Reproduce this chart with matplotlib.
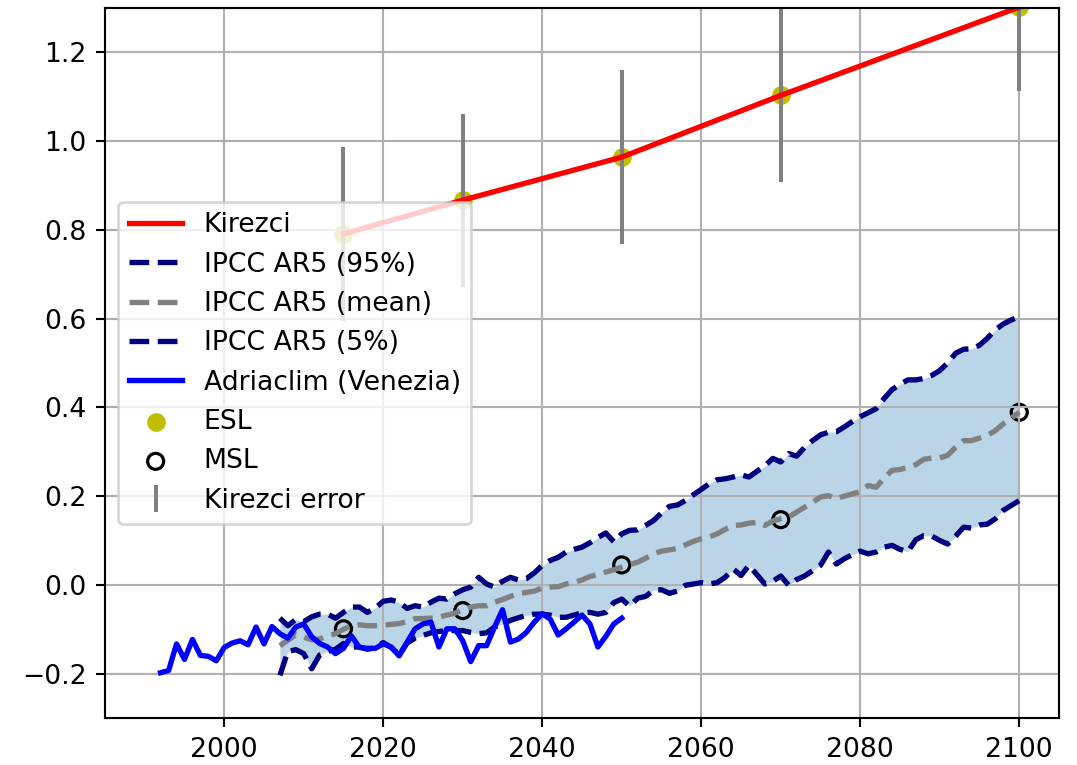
import numpy as np
import matplotlib
matplotlib.use("Agg")
import matplotlib.pyplot as plt

# ---------------- data ----------------
ipcc_years = list(range(2007, 2101))
ipcc_95 = [-0.075, -0.092, -0.078, -0.083, -0.072, -0.066, -0.066, -0.075, -0.062, -0.050,
           -0.050, -0.062, -0.052, -0.037, -0.034, -0.039, -0.053, -0.047, -0.050, -0.039,
           -0.030, -0.032, -0.020, -0.011, -0.005, 0.017, 0.002, -0.005, 0.008, 0.017,
           0.011, 0.014, 0.027, 0.044, 0.055, 0.062, 0.074, 0.080, 0.085, 0.095,
           0.107, 0.117, 0.097, 0.115, 0.123, 0.124, 0.134, 0.145, 0.162, 0.177,
           0.180, 0.190, 0.203, 0.215, 0.228, 0.237, 0.239, 0.243, 0.248, 0.243,
           0.256, 0.268, 0.285, 0.277, 0.296, 0.290, 0.310, 0.325, 0.338, 0.344,
           0.345, 0.356, 0.368, 0.379, 0.388, 0.397, 0.420, 0.440, 0.452, 0.462,
           0.462, 0.465, 0.472, 0.483, 0.500, 0.522, 0.531, 0.532, 0.540, 0.556,
           0.575, 0.588, 0.597, 0.605]
ipcc_mean = [-0.137, -0.125, -0.112, -0.118, -0.124, -0.122, -0.115, -0.110, -0.100, -0.092,
             -0.090, -0.092, -0.092, -0.091, -0.089, -0.087, -0.083, -0.076, -0.076, -0.075,
             -0.073, -0.068, -0.064, -0.056, -0.050, -0.047, -0.047, -0.039, -0.033, -0.026,
             -0.020, -0.017, -0.014, -0.007, -0.005, -0.004, 0.002, 0.006, 0.011, 0.019,
             0.023, 0.029, 0.034, 0.040, 0.046, 0.051, 0.060, 0.070, 0.076, 0.079,
             0.082, 0.090, 0.098, 0.104, 0.108, 0.115, 0.125, 0.134, 0.135, 0.139,
             0.141, 0.134, 0.144, 0.149, 0.153, 0.164, 0.175, 0.186, 0.198, 0.201,
             0.194, 0.200, 0.205, 0.210, 0.224, 0.220, 0.241, 0.258, 0.260, 0.265,
             0.271, 0.283, 0.286, 0.286, 0.292, 0.310, 0.325, 0.325, 0.331, 0.337,
             0.348, 0.363, 0.376, 0.389]
ipcc_5 = [-0.204, -0.150, -0.146, -0.155, -0.189, -0.158, -0.150, -0.145, -0.132, -0.140,
          -0.140, -0.145, -0.142, -0.130, -0.141, -0.158, -0.131, -0.120, -0.114, -0.108,
          -0.105, -0.103, -0.103, -0.103, -0.107, -0.110, -0.108, -0.095, -0.088, -0.080,
          -0.074, -0.069, -0.066, -0.066, -0.068, -0.073, -0.073, -0.068, -0.063, -0.062,
          -0.066, -0.062, -0.040, -0.032, -0.048, -0.030, -0.026, -0.012, -0.011, -0.019,
          -0.014, -0.001, 0.002, 0.005, 0.002, 0.005, 0.017, 0.036, 0.021, 0.044,
          0.023, 0.002, 0.008, 0.020, -0.001, 0.012, 0.020, 0.032, 0.044, 0.074,
          0.047, 0.059, 0.068, 0.076, 0.070, 0.074, 0.085, 0.089, 0.080, 0.075,
          0.102, 0.111, 0.110, 0.100, 0.092, 0.110, 0.130, 0.128, 0.135, 0.137,
          0.149, 0.168, 0.179, 0.190]

adria_years = list(range(1992, 2051))
adria_vals = [-0.198, -0.193, -0.133, -0.168, -0.123, -0.159, -0.161, -0.171, -0.141, -0.131,
              -0.126, -0.135, -0.095, -0.133, -0.094, -0.110, -0.120, -0.095, -0.088, -0.117,
              -0.132, -0.140, -0.155, -0.143, -0.115, -0.141, -0.143, -0.143, -0.133, -0.140,
              -0.160, -0.129, -0.099, -0.088, -0.084, -0.140, -0.099, -0.099, -0.126, -0.173,
              -0.137, -0.137, -0.095, -0.056, -0.129, -0.122, -0.107, -0.084, -0.065, -0.077,
              -0.113, -0.099, -0.084, -0.068, -0.088, -0.140, -0.116, -0.088, -0.075]

point_years = [2015, 2030, 2050, 2070, 2100]
esl_vals = [0.791, 0.867, 0.964, 1.103, 1.302]
kirezci_err = [0.196, 0.195, 0.196, 0.195, 0.19]
msl_vals = [-0.099, -0.058, 0.045, 0.147, 0.389]

# ---------------- plot ----------------
DPI = 192
fig = plt.figure(figsize=(1077 / DPI, 765 / DPI), dpi=DPI)
ax = fig.add_axes([105 / 1077, 47 / 765, 954 / 1077, 710 / 765])

ax.errorbar(point_years, esl_vals, yerr=kirezci_err, fmt='none', ecolor='gray',
            elinewidth=1.5, label='Kirezci error')
ax.plot(point_years, esl_vals, color='red', lw=2, label='Kirezci')
ax.plot(ipcc_years, ipcc_95, color='navy', ls='--', lw=2, label='IPCC AR5 (95%)')
ax.plot(ipcc_years, ipcc_mean, color='gray', ls='--', lw=2, label='IPCC AR5 (mean)')
ax.plot(ipcc_years, ipcc_5, color='navy', ls='--', lw=2, label='IPCC AR5 (5%)')
ax.fill_between(ipcc_years, ipcc_5, ipcc_95, color='C0', alpha=0.3, lw=0)
ax.plot(adria_years, adria_vals, color='blue', lw=2, label='Adriaclim (Venezia)')
ax.scatter(point_years, esl_vals, color='y', label='ESL')
ax.scatter(point_years, msl_vals, facecolors='none', edgecolors='k', lw=1.2, label='MSL')

ax.set_xlim(1985, 2105)
ax.set_ylim(-0.3, 1.3)
ax.set_xticks([2000, 2020, 2040, 2060, 2080, 2100])
ax.set_yticks([-0.2, 0.0, 0.2, 0.4, 0.6, 0.8, 1.0, 1.2])
ax.grid(True)
ax.legend(loc='center left')

fig.savefig('out.png', dpi=DPI)
